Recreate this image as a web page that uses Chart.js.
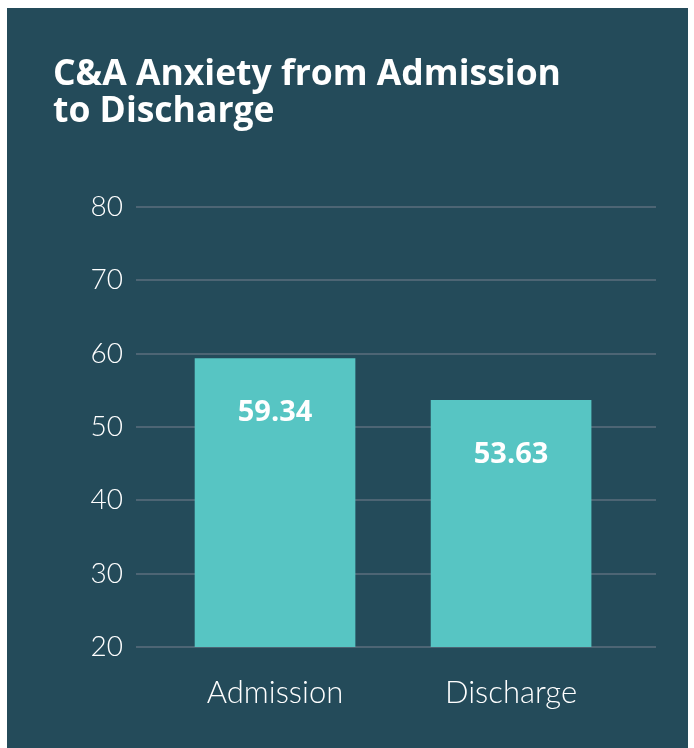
<!DOCTYPE html>
<html>
<head>
<meta charset="utf-8">
<script src="https://cdn.jsdelivr.net/npm/chart.js@4/dist/chart.umd.min.js"></script>
<style>
  html, body { margin: 0; padding: 0; background: #ffffff; }
  #panel { position: absolute; left: 7px; top: 8px; width: 681px; height: 740px; background: #244b5a; }
  canvas { display: block; }
</style>
</head>
<body>
<div id="panel"><canvas id="c" width="681" height="740"></canvas></div>
<script>
// ---- data ----
const titleLines = ['C&A Anxiety from Admission', 'to Discharge'];
const categories = ['Admission', 'Discharge'];
const scores = [59.34, 53.63];
const yTicks = [20, 30, 40, 50, 60, 70, 80];

const BAR = '#57c5c3';
const GRID = '#4d6574';

const valueLabels = {
  id: 'valueLabels',
  afterDatasetsDraw(chart) {
    const ctx = chart.ctx;
    const meta = chart.getDatasetMeta(0);
    ctx.save();
    ctx.fillStyle = '#ffffff';
    ctx.font = 'bold 29px "Open Sans"';
    ctx.textAlign = 'center';
    ctx.textBaseline = 'middle';
    meta.data.forEach((bar, i) => {
      ctx.fillText(scores[i].toFixed(2), bar.x, bar.y + 54);
    });
    ctx.restore();
  }
};

new Chart(document.getElementById('c'), {
  type: 'bar',
  data: {
    datasets: [{
      data: categories.map((c, i) => ({ x: i, y: scores[i] })),
      backgroundColor: BAR,
      borderWidth: 0,
      barThickness: 160
    }]
  },
  options: {
    responsive: false,
    animation: false,
    devicePixelRatio: 1,
    layout: { padding: { left: 46, right: 32, top: 48, bottom: 31 } },
    plugins: {
      legend: { display: false },
      tooltip: { enabled: false },
      title: {
        display: true,
        text: titleLines,
        align: 'start',
        color: '#ffffff',
        font: { family: '"Open Sans"', size: 35.5, weight: 'bold', lineHeight: '37px' },
        padding: { top: 0, bottom: 77 }
      }
    },
    scales: {
      x: {
        type: 'linear',
        offset: false,
        min: -0.589,
        max: 1.614,
        grid: { display: false },
        border: { display: false },
        afterBuildTicks: (s) => { s.ticks = categories.map((c, i) => ({ value: i })); },
        afterFit: (s) => { s.height = 70; },
        ticks: {
          padding: 19,
          color: '#ffffff',
          font: { family: 'Lato', size: 31, weight: 300 },
          callback: (v) => categories[v]
        }
      },
      y: {
        min: 20,
        max: 80,
        afterBuildTicks: (s) => { s.ticks = yTicks.map(v => ({ value: v })); },
        afterFit: (s) => { s.width = 83; },
        grid: { color: GRID, lineWidth: 2, drawTicks: false },
        border: { display: false },
        ticks: {
          padding: 13,
          color: '#ffffff',
          font: { family: 'Lato', size: 28, weight: 300 }
        }
      }
    }
  },
  plugins: [valueLabels]
});
</script>
</body>
</html>
